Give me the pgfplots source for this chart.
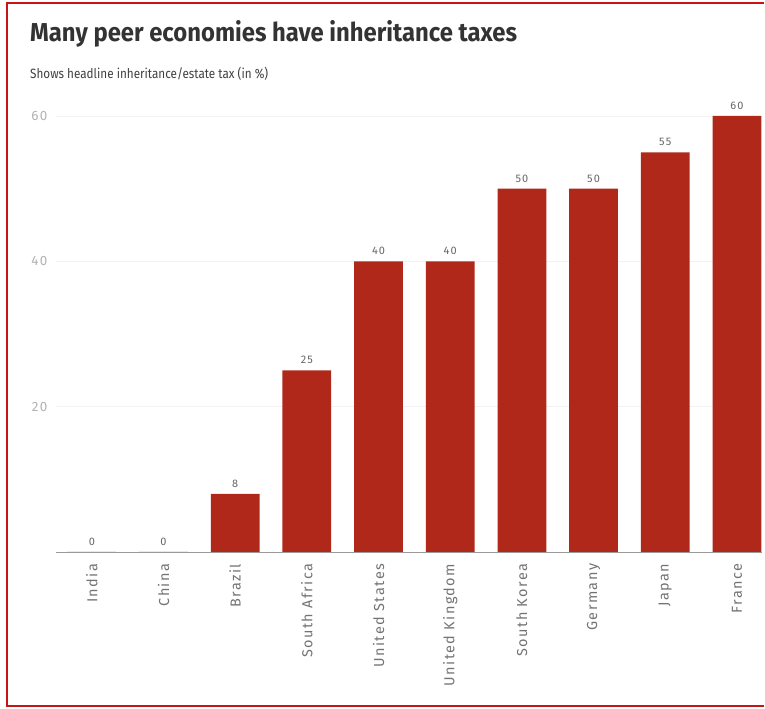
\documentclass[border=0pt]{standalone}
\usepackage{pgfplots}
\pgfplotsset{compat=1.18}
\usepackage{fontspec}
\setmainfont{Fira Sans}
\newfontfamily\titlefont[FakeStretch=0.92]{Fira Sans}
\newfontfamily\subfont[FakeStretch=0.87]{Fira Sans}
\newfontfamily\labelfont[LetterSpace=10]{Fira Sans}
\definecolor{barred}{RGB}{176,40,26}
\definecolor{frame}{RGB}{200,20,20}
\begin{document}
\begin{tikzpicture}
\path[use as bounding box] (0,0) rectangle (765bp,709bp);
\draw[frame,line width=1.5bp] (764bp,706bp) -- (7bp,706bp) -- (7bp,3bp) -- (764bp,3bp);
\node[anchor=base west,inner sep=0pt,text=black!80] at (30bp,667bp) {\titlefont\fontsize{26}{30}\selectfont\bfseries Many peer economies have inheritance taxes};
\node[anchor=base west,inner sep=0pt,text=black!75] at (30bp,630bp) {\subfont\fontsize{13.5}{16}\selectfont Shows headline inheritance/estate tax (in \%)};
\begin{axis}[
  at={(56bp,157bp)}, anchor=south west,
  scale only axis, width=706bp, height=436bp,
  xmin=-0.5, xmax=9.35, ymin=0, ymax=60,
  ytick={20,40,60},
  xtick=data,
  xticklabels={India,China,Brazil,South Africa,United States,United Kingdom,South Korea,Germany,Japan,France},
  xticklabel style={rotate=90, anchor=east, text=black!55, font=\labelfont\fontsize{14.5}{16}\selectfont, xshift=-4bp},
  yticklabel style={text=black!30, font=\labelfont\fontsize{13.5}{15}\selectfont, xshift=-5bp},
  /pgf/number format/assume math mode=true,
  axis lines*=left,
  y axis line style={draw=none},
  x axis line style={draw=black!40, line width=0.8bp},
  tick style={draw=none},
  ymajorgrids, major grid style={draw=black!5},
  clip=false,
  ybar, bar width=0.68,
  nodes near coords,
  every node near coord/.append style={text=black!60, font=\labelfont\fontsize{11}{13}\selectfont, yshift=3bp},
]
\addplot[fill=barred, draw=none] coordinates {(0,0) (1,0) (2,8) (3,25) (4,40) (5,40) (6,50) (7,50) (8,55) (9,60)};
\end{axis}
\end{tikzpicture}
\end{document}
